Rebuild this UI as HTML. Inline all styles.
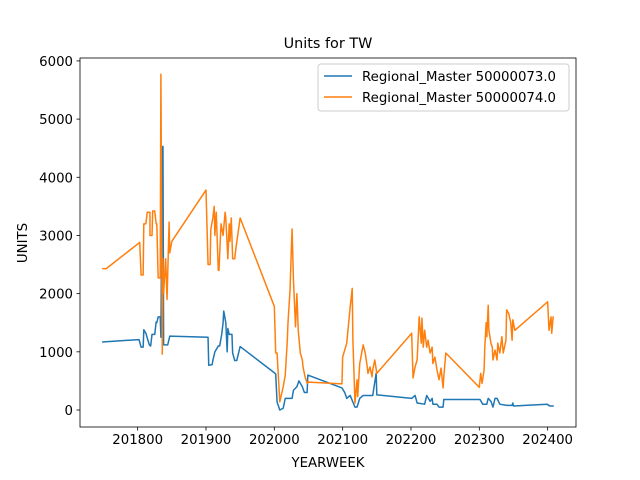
<!DOCTYPE html>
<html><head><meta charset="utf-8"><style>
html,body{margin:0;padding:0;background:#fff;}
svg{display:block;font-family:"DejaVu Sans","Liberation Sans",sans-serif;}
</style></head><body>
<svg id="chart" width="640" height="480" viewBox="0 0 640 480">
<rect width="640" height="480" fill="#fff"/>
<text x="328" y="48" font-size="14.4" text-anchor="middle">Units for TW</text>
<text x="328" y="467" font-size="13.3" text-anchor="middle">YEARWEEK</text>
<text transform="translate(27,243) rotate(-90)" font-size="13.3" text-anchor="middle">UNITS</text>
<g id="plot"></g>
<g id="axes"></g>
<g id="legend">
<rect x="318" y="64" width="251" height="47" rx="3" fill="#fff" fill-opacity="0.8" stroke="#ccc"/>
<line x1="324" y1="76" x2="352" y2="76" stroke="#1f77b4" stroke-width="1.5"/>
<text x="362" y="81" font-size="13.3">Regional_Master 50000073.0</text>
<line x1="324" y1="97" x2="352" y2="97" stroke="#ff7f0e" stroke-width="1.5"/>
<text x="362" y="102" font-size="13.3">Regional_Master 50000074.0</text>
</g>
</svg>
<script>
const xTicks = [201800,201900,202000,202100,202200,202300,202400];
const yTicks = [0,1000,2000,3000,4000,5000,6000];
const blueWeeks = [201748,201802,201805,201808,201809,201812,201815,201817,201819,201821,201825,201827,201828,201830,201833,201834,201836,201837,201838,201843,201844,201847,201903,201904,201909,201910,201913,201918,201920,201923,201925,201926,201929,201931,201932,201934,201938,201939,201942,201945,201950,202000,202002,202004,202008,202013,202016,202026,202028,202033,202036,202041,202044,202048,202049,202099,202103,202106,202111,202118,202121,202125,202130,202140,202144,202149,202150,202201,202206,202209,202220,202223,202228,202231,202232,202238,202241,202247,202248,202301,202305,202311,202313,202317,202320,202323,202326,202330,202340,202348,202349,202350,202399,202403,202409];
const blueUnits = [1170,1210,1080,1080,1380,1320,1200,1120,1100,1300,1300,1510,1500,1600,1600,1250,4530,4530,1120,1120,1120,1270,1250,770,780,850,1000,1100,1100,1300,1500,1700,1500,1000,1400,1300,1300,980,850,850,1090,640,620,140,0,30,200,200,340,400,500,400,300,300,600,380,300,200,250,50,50,200,250,250,250,630,260,200,250,120,100,250,150,200,100,100,50,50,180,180,100,100,200,150,50,200,200,100,80,80,120,70,100,70,70];
const orangeWeeks = [201748,201754,201803,201805,201808,201809,201812,201814,201818,201818,201821,201822,201825,201827,201828,201830,201833,201834,201836,201837,201838,201840,201841,201843,201846,201847,201850,201900,201903,201906,201907,201910,201912,201913,201915,201918,201919,201922,201925,201928,201929,201932,201934,201935,201937,201939,201941,201942,201944,201950,202000,202002,202004,202008,202013,202016,202019,202020,202023,202025,202026,202028,202031,202033,202035,202038,202041,202042,202045,202048,202050,202099,202100,202103,202106,202111,202114,202115,202118,202121,202122,202125,202130,202133,202136,202137,202140,202143,202144,202147,202150,202201,202203,202206,202209,202212,202215,202216,202218,202220,202223,202225,202228,202231,202232,202235,202238,202241,202244,202247,202248,202251,202300,202302,202304,202307,202308,202310,202311,202313,202314,202317,202319,202320,202323,202326,202327,202330,202333,202335,202339,202340,202343,202346,202348,202349,202352,202400,202402,202405,202406,202408,202409];
const orangeUnits = [2430,2430,2880,2320,2320,3200,3200,3400,3400,3000,3000,3420,3420,3200,3200,2270,2270,5770,960,2600,2000,2400,2600,1900,3230,2700,2900,3780,2500,2500,3100,3300,3500,3000,3400,2400,2400,3200,3000,3400,3300,2600,3200,2900,3300,2600,2600,2600,2800,3300,1780,980,980,140,400,600,1200,1500,2060,2800,3110,2230,1430,2000,1370,980,860,740,570,460,480,450,910,1030,1150,1770,2090,1200,120,520,230,800,1120,980,740,630,740,570,690,860,630,1320,550,740,860,1600,1150,1580,1080,1370,1080,1200,980,1080,800,910,690,520,720,380,570,980,390,630,460,690,1080,1500,1260,1800,1370,1150,1080,860,1030,860,1150,980,1260,980,1200,1720,1660,1500,1200,1550,1370,1860,1370,1600,1320,1600,1600];

const L=80,R=576,T=58,B=427;
const xMin=201715.6,xMax=202441.5,yMin=-292,yMax=6050;
function xs(v){return L+(v-xMin)/(xMax-xMin)*(R-L);}
function ys(v){return B-(v-yMin)/(yMax-yMin)*(B-T);}
const NS='http://www.w3.org/2000/svg';
const plot=document.getElementById('plot');
const axes=document.getElementById('axes');
function mk(tag,attrs,parent){const e=document.createElementNS(NS,tag);for(const k in attrs)e.setAttribute(k,attrs[k]);parent.appendChild(e);return e;}

function drawLine(weeks,units,color,name){
  let d='';
  for(let i=0;i<weeks.length;i++){d+=(i?'L':'M')+xs(weeks[i]).toFixed(2)+','+ys(units[i]).toFixed(2);}
  const p=mk('path',{d:d,fill:'none',stroke:color,'stroke-width':1.5,'stroke-linejoin':'round'},plot);
  
  
}
drawLine(blueWeeks,blueUnits,'#1f77b4','series-50000073-line');
drawLine(orangeWeeks,orangeUnits,'#ff7f0e','series-50000074-line');

const frame=mk('rect',{x:L,y:T,width:R-L,height:B-T,fill:'none',stroke:'#000','stroke-width':0.8},axes);



xTicks.forEach(t=>{
  const x=xs(t);
  const tk=mk('line',{x1:x,y1:B,x2:x,y2:B+3.5,stroke:'#000','stroke-width':0.8},axes);
  
  
  const tx=mk('text',{x:x,y:B+17,'font-size':13.3,'text-anchor':'middle'},axes);
  tx.textContent=t;
  
  
});
yTicks.forEach(t=>{
  const y=ys(t);
  const tk=mk('line',{x1:L-3.5,y1:y,x2:L,y2:y,stroke:'#000','stroke-width':0.8},axes);
  
  
  const tx=mk('text',{x:L-7,y:y+5,'font-size':13.3,'text-anchor':'end'},axes);
  tx.textContent=t;
  
  
});
</script>
</body></html>
